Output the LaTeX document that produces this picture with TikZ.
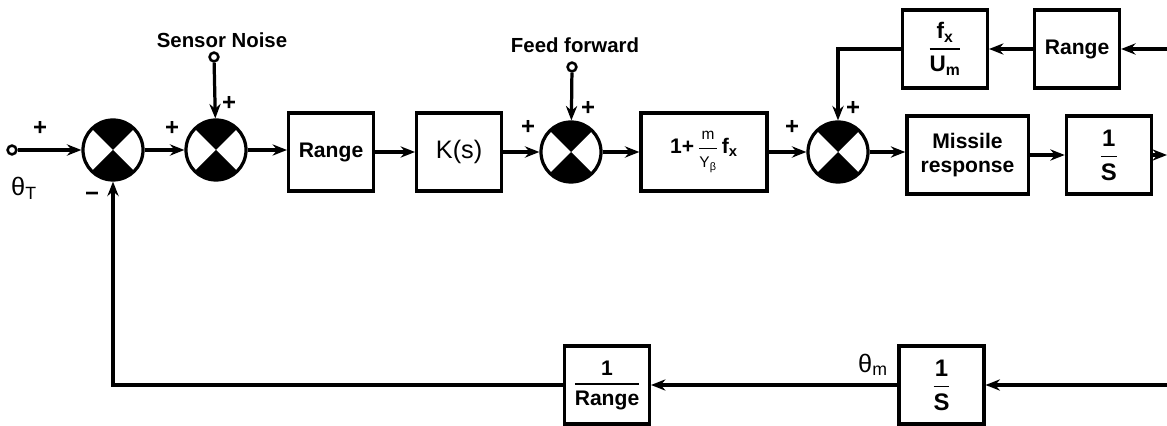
\documentclass[tikz,border=0pt]{standalone}
\usepackage{fontspec}
\setmainfont{Liberation Sans}
\usepackage{amsmath}
\usepackage{tikz}
\usetikzlibrary{arrows.meta, positioning, calc}
\newcommand{\blkfrac}[2]{$\genfrac{}{}{1.4pt}{0}{\text{#1}}{\text{#2}}$}
\tikzset{
  block/.style={rectangle, draw, line width=2.3pt,
    minimum width=2.12cm, minimum height=1.95cm, align=center,
    font=\fontsize{15}{17}\selectfont\bfseries, inner sep=2pt},
  sumjunc/.style={circle, draw, line width=2.3pt, minimum size=1.5cm,
    inner sep=0pt,
    path picture={
      \fill (path picture bounding box.center) -- +(45:2cm) -- +(135:2cm) -- cycle;
      \fill (path picture bounding box.center) -- +(225:2cm) -- +(315:2cm) -- cycle;}},
  port/.style={circle, draw, fill=white, line width=1.8pt,
    minimum size=0.22cm, inner sep=0pt},
  arrow/.style={-{Stealth[length=0.36cm,width=0.28cm]}, line width=2.3pt},
  line/.style={line width=2.3pt},
  sgn/.style={font=\fontsize{17}{19}\selectfont\bfseries, inner sep=0pt},
  lbl/.style={font=\fontsize{14.5}{16}\selectfont\bfseries, inner sep=0pt}
}

\begin{document}
\begin{tikzpicture}[x=0.025cm, y=-0.025cm, node distance=1cm]
  \useasboundingbox (0,0) rectangle (1167,426);

  % Forward path
  \node[port] (inp) at (12,150) {};
  \node[sumjunc] (sum1) at (113,150) {};
  \node[sumjunc] (sum2) at (216,150) {};
  \node[block] (range) at (331,152) {Range};
  \node[block, right=1cm of range, font=\fontsize{18}{20}\selectfont] (ks) {K(s)};
  \node[sumjunc] (sum3) at (571,152) {};
  \node[block, minimum width=3.15cm] (gain) at (704,152)
    {1+\,$\genfrac{}{}{0.5pt}{0}{\text{\mdseries\fontsize{11}{12}\selectfont m}}{\text{\mdseries\fontsize{11}{12}\selectfont Y$_{\text{β}}$}}$\,f$_{\text{x}}$};
  \node[sumjunc] (sum4) at (838,152) {};
  \node[block, minimum width=3.03cm] (missile) at (967.5,155) {Missile\\response};
  \node[block, right=0.875cm of missile, font=\fontsize{17}{19}\selectfont\bfseries] (integ) {\blkfrac{1}{S}};
  \coordinate (outR) at (1167,155);

  % Upper loop
  \node[block, font=\fontsize{16}{18}\selectfont\bfseries] (fxum) at (945,49) {\blkfrac{f$_{\text{x}}$}{U$_{\text{m}}$}};
  \node[block, right=1.1cm of fxum] (range2) {Range};
  \coordinate (fbT) at (1167,49);

  % Lower loop
  \node[block, font=\fontsize{17}{19}\selectfont\bfseries] (integ2) at (941.5,385) {\blkfrac{1}{S}};
  \node[block] (invrange) at (607,385) {\blkfrac{1}{Range}};
  \coordinate (fbB) at (1167,385);

  % Side inputs
  \node[port] (sn) at (214,57) {};
  \node[lbl] at (222,40) {Sensor Noise};
  \node[port] (ff) at (572,67) {};
  \node[lbl] at (575,45) {Feed forward};

  % Labels
  \node[font=\fontsize{18}{20}\selectfont, inner sep=0pt] at (24,188) {θ$_{\text{T}}$};
  \node[font=\fontsize{18}{20}\selectfont, inner sep=0pt] at (873,365) {θ$_{\text{m}}$};
  \node[sgn] at (40,128) {+};
  \node[sgn] at (92,197) {\textminus};
  \node[sgn] at (172,128) {+};
  \node[sgn] at (229,103) {+};
  \node[sgn] at (528,127) {+};
  \node[sgn] at (588,108) {+};
  \node[sgn] at (792,127) {+};
  \node[sgn] at (853,108) {+};

  % Connections
  \draw[arrow] (inp) -- (sum1);
  \draw[arrow] (sum1) -- (sum2);
  \draw[arrow] (sum2) -- (sum2 -| range.west);
  \draw[arrow] (range) -- (ks);
  \draw[arrow] (ks) -- (sum3);
  \draw[arrow] (sum3) -- (gain);
  \draw[arrow] (gain) -- (sum4);
  \draw[arrow] (sum4) -- (sum4 -| missile.west);
  \draw[arrow] (missile) -- (integ);
  \draw[arrow] (integ) -- (outR);

  \draw[arrow] (sn) -- (sum2);
  \draw[arrow] (ff) -- (sum3);

  \draw[arrow] (fbT) -- (range2);
  \draw[arrow] (range2) -- (fxum);
  \draw[arrow] (fxum.west) -| (sum4.north);

  \draw[arrow] (fbB) -- (integ2);
  \draw[arrow] (integ2) -- (invrange);
  \draw[arrow] (invrange.west) -| (sum1.south);
\end{tikzpicture}
\end{document}
